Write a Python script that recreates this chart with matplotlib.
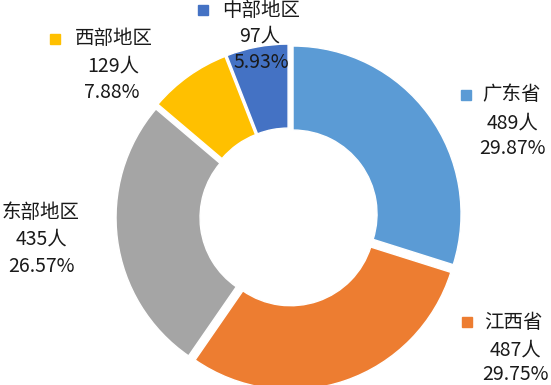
import matplotlib
matplotlib.use("Agg")
from matplotlib import pyplot as plt

plt.rcParams['font.family'] = ['Noto Sans CJK SC', 'DejaVu Sans']

# 数据
regioes = ['广东省', '江西省', '东部地区', '西部地区', '中部地区']
pessoas = [489, 487, 435, 129, 97]
percentuais = ['29.87%', '29.75%', '26.57%', '7.88%', '5.93%']
cores = ['#5B9BD5', '#ED7D31', '#A5A5A5', '#FFC000', '#4472C4']

# posições dos rótulos (pixels da imagem: x, y do centro do bloco de texto)
pos_marcador = [(466, 95), (467, 322), (-20, 213), (55, 39), (203, 10)]
pos_nome = [(512, 95), (513, 322), (41, 213), (114, 39), (261, 10)]
pos_pessoas = [(513, 123), (515, 350), (41, 239), (113, 66), (260, 36)]
pos_pct = [(512, 149), (515, 375), (41, 266), (112, 92), (261, 62)]

W, H = 551, 385
fig = plt.figure(figsize=(W / 100, H / 100), dpi=100)
ax = fig.add_axes([0, 0, 1, 1])

R = 168
ax.pie(pessoas, colors=cores, startangle=90, counterclock=False,
       center=(289, H - 217), radius=R, explode=[5] * len(pessoas),
       wedgeprops=dict(width=R * 0.5, edgecolor='white', linewidth=1))

ax.set_xlim(0, W)
ax.set_ylim(0, H)
ax.set_aspect('equal')
ax.axis('off')

fs = 14
cor_txt = '#1a1a1a'
for i in range(len(regioes)):
    mx, my = pos_marcador[i]
    ax.plot(mx, H - my, marker='s', markersize=7.5, color=cores[i], clip_on=False)
    nx, ny = pos_nome[i]
    ax.text(nx, H - ny, regioes[i], fontsize=fs, color=cor_txt, ha='center', va='center')
    px, py = pos_pessoas[i]
    ax.text(px, H - py, f'{pessoas[i]}人', fontsize=fs, color=cor_txt, ha='center', va='center')
    qx, qy = pos_pct[i]
    ax.text(qx, H - qy, percentuais[i], fontsize=fs, color=cor_txt, ha='center', va='center')

fig.savefig('out.png', dpi=100)
